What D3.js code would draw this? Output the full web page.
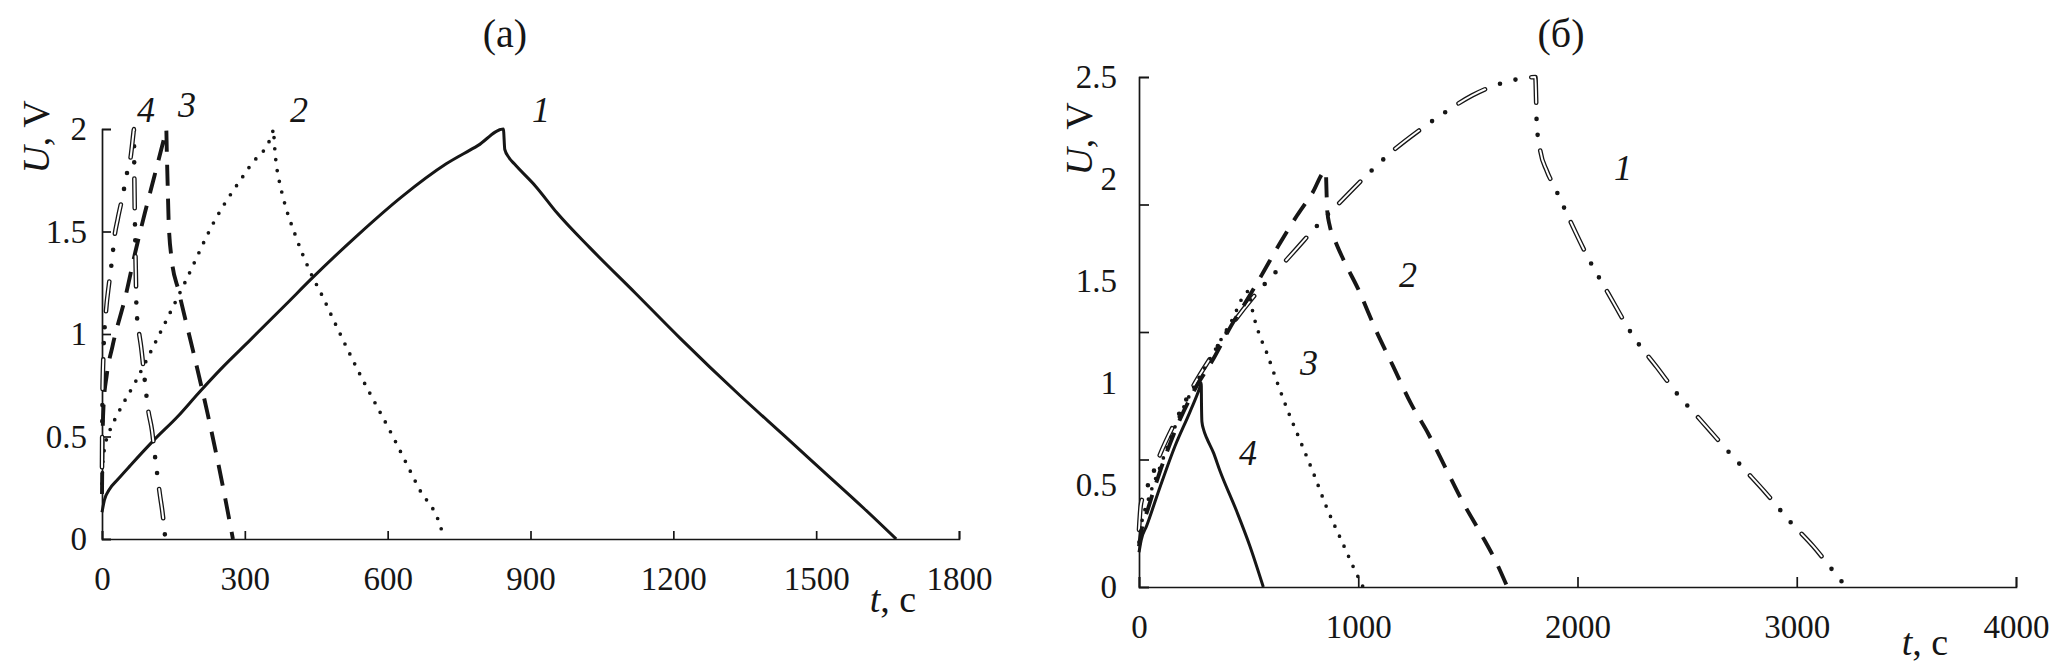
<!DOCTYPE html>
<html>
<head>
<meta charset="utf-8">
<script src="https://cdn.jsdelivr.net/npm/d3@7"></script>
<style>
  html, body { margin: 0; padding: 0; background: #ffffff; }
  svg { display: block; }
</style>
</head>
<body>
<svg id="chart" width="2067" height="670"></svg>
<script>
// ---------------- DATA ----------------
// Panel (а): tick values
const aTicksX = [0, 300, 600, 900, 1200, 1500, 1800];
const aTicksY = [0, 0.5, 1, 1.5, 2];
// Panel (б): tick values (tick marks and labels are not aligned in the original)
const bTicksX = [0, 1000, 2000, 3000, 4000];
const bTickMarksY = [0, 0.625, 1.25, 1.875, 2.5];
const bLabelsY = [0, 0.5, 1, 1.5, 2, 2.5];

// Panel (а) curves: [t, s ; U, V]
const a1 = [[0,0.13],[5,0.19],[15,0.24],[33,0.29],[60,0.36],[108,0.48],[160,0.60],[202,0.71],[250,0.83],[311,0.97],[393,1.16],[438,1.265],[536,1.48],[630,1.67],[723,1.83],[790,1.92],[843,2.0],[846,1.90],[855,1.86],[866,1.83],[911,1.72],[956,1.59],[1025,1.42],[1120,1.20],[1214,0.98],[1340,0.70],[1430,0.51],[1515,0.33],[1600,0.15],[1668,0]];
const a2 = [[0,0.27],[2,0.38],[6,0.45],[15,0.52],[33,0.61],[71,0.77],[108,0.94],[176,1.26],[236,1.55],[311,1.82],[358,1.98],[360,2.0],[362,1.93],[365,1.85],[372,1.75],[380,1.67],[408,1.47],[438,1.30],[464,1.18],[484,1.08],[536,0.83],[611,0.50],[665,0.25],[716,0.02],[718,0]];
const a3 = [[0,0.22],[1,0.45],[3,0.64],[10,0.80],[22,0.94],[50,1.19],[70,1.40],[90,1.59],[110,1.77],[134,1.99],[135,2.0],[136,1.9],[138,1.72],[140,1.55],[146,1.37],[161,1.21],[191,0.92],[221,0.62],[251,0.29],[275,0]];
const a4 = [[0,0.35],[1,0.7],[3,0.9],[8,1.1],[15,1.25],[22,1.38],[26,1.47],[33,1.56],[44,1.68],[52,1.78],[60,1.86],[66,1.98],[67,2.0],[68,1.75],[69.5,1.5],[71,1.3],[72.5,1.12],[77,1.02],[82,0.94],[90,0.77],[97,0.63],[105,0.53],[112,0.39],[122,0.21],[127,0.13],[133,0]];

// Panel (б) curves
const b1 = [[0,0.28],[8,0.40],[25,0.46],[50,0.52],[100,0.66],[170,0.82],[250,0.99],[330,1.13],[420,1.28],[520,1.42],[620,1.54],[720,1.66],[820,1.78],[930,1.90],[1040,2.02],[1160,2.14],[1280,2.24],[1400,2.33],[1520,2.41],[1640,2.465],[1760,2.495],[1808,2.50],[1811,2.40],[1814,2.27],[1830,2.14],[1860,2.04],[1900,1.95],[1960,1.81],[2050,1.61],[2140,1.44],[2260,1.22],[2360,1.08],[2460,0.94],[2560,0.82],[2650,0.71],[2750,0.59],[2860,0.46],[2970,0.32],[3075,0.20],[3180,0.06],[3225,0]];
const b2 = [[0,0.2],[10,0.27],[40,0.38],[100,0.58],[170,0.78],[250,0.96],[340,1.12],[420,1.28],[500,1.42],[560,1.53],[640,1.68],[720,1.82],[790,1.93],[852,2.04],[855,1.95],[858,1.85],[870,1.77],[890,1.71],[930,1.61],[1000,1.46],[1080,1.26],[1160,1.08],[1240,0.90],[1320,0.75],[1400,0.58],[1480,0.41],[1560,0.26],[1630,0.12],[1680,0]];
const b3 = [[0,0.22],[10,0.30],[40,0.42],[100,0.60],[170,0.80],[250,0.98],[330,1.13],[420,1.30],[500,1.45],[505,1.45],[510,1.40],[521,1.34],[545,1.25],[582,1.15],[628,1.01],[673,0.88],[734,0.72],[795,0.56],[856,0.39],[931,0.21],[977,0.10],[1022,0]];
const b4 = [[0,0.17],[10,0.23],[35,0.30],[96,0.49],[164,0.69],[233,0.86],[278,0.98],[284,1.0],[285,0.9],[287,0.81],[295,0.77],[309,0.73],[339,0.66],[369,0.57],[446,0.37],[506,0.20],[567,0]];

// Curve labels
const aCurveLabels = ["1", "2", "3", "4"];
const bCurveLabels = ["1", "2", "3", "4"];

// ---------------- DRAWING ----------------
const FONT = "'Liberation Serif', 'Times New Roman', Times, serif";
const INK = "#161616";
const svg = d3.select("#chart");

const xA = d3.scaleLinear().domain([0, 1800]).range([102, 959]);
const yA = d3.scaleLinear().domain([0, 2]).range([539, 129]);
const xB = d3.scaleLinear().domain([0, 4000]).range([1139, 2016]);
const yB = d3.scaleLinear().domain([0, 2.5]).range([587, 77]);

function styleAxis(g, fs) {
  g.attr("font-family", FONT).attr("font-size", fs);
  g.selectAll("path, line").attr("stroke", INK).attr("stroke-width", 1.7);
  g.selectAll("text").attr("fill", INK);
}
const fmt = d => String(d);

// Panel (а) axes
svg.append("g").attr("transform", `translate(0,${yA(0)})`)
  .call(d3.axisBottom(xA).tickValues(aTicksX).tickSize(-8).tickSizeOuter(-8).tickPadding(28).tickFormat(fmt))
  .call(g => styleAxis(g, 33));
svg.append("g").attr("transform", `translate(${xA(0)},0)`)
  .call(d3.axisLeft(yA).tickValues(aTicksY).tickSize(-9).tickSizeOuter(-9).tickPadding(15).tickFormat(fmt))
  .call(g => styleAxis(g, 33));

// Panel (б) axes
svg.append("g").attr("transform", `translate(0,${yB(0)})`)
  .call(d3.axisBottom(xB).tickValues(bTicksX).tickSize(-10).tickSizeOuter(-10).tickPadding(28).tickFormat(fmt))
  .call(g => styleAxis(g, 33));
svg.append("g").attr("transform", `translate(${xB(0)},0)`)
  .call(d3.axisLeft(yB).tickValues(bTickMarksY).tickSize(-10).tickSizeOuter(-10).tickFormat(""))
  .call(g => styleAxis(g, 33));
svg.append("g").attr("transform", `translate(${xB(0)},0)`)
  .call(d3.axisLeft(yB).tickValues(bLabelsY).tickSize(0).tickPadding(22).tickFormat(fmt))
  .call(g => { g.select(".domain").remove(); styleAxis(g, 33); });

// Curves
function mkLine(x, y) {
  return d3.line().x(d => x(d[0])).y(d => y(d[1])).curve(d3.curveMonotoneX);
}
const lineA = mkLine(xA, yA), lineB = mkLine(xB, yB);

function solid(data, ln, w) {
  svg.append("path").datum(data).attr("d", ln).attr("fill", "none")
    .attr("stroke", INK).attr("stroke-width", w).attr("stroke-linejoin", "round");
}
function dotted(data, ln) {
  svg.append("path").datum(data).attr("d", ln).attr("fill", "none")
    .attr("stroke", INK).attr("stroke-width", 3.7).attr("stroke-linecap", "round")
    .attr("stroke-dasharray", "0 11");
}
function dashed(data, ln, pattern) {
  svg.append("path").datum(data).attr("d", ln).attr("fill", "none")
    .attr("stroke", INK).attr("stroke-width", 3.9).attr("stroke-dasharray", pattern);
}
function hollowDashDotDot(data, ln) {
  svg.append("path").datum(data).attr("d", ln).attr("fill", "none")
    .attr("stroke", INK).attr("stroke-width", 4.6).attr("stroke-linecap", "round")
    .attr("stroke-dasharray", "30 16 0 16 0 16");
  svg.append("path").datum(data).attr("d", ln).attr("fill", "none")
    .attr("stroke", "#ffffff").attr("stroke-width", 2.0).attr("stroke-linecap", "round")
    .attr("stroke-dasharray", "30 48");
}

// Panel (а)
solid(a1, lineA, 3.0);
dotted(a2, lineA);
dashed(a3, lineA, "21 13");
hollowDashDotDot(a4, lineA);

// Panel (б)
hollowDashDotDot(b1, lineB);
dashed(b2, lineB, "20 13");
dotted(b3, lineB);
solid(b4, lineB, 3.0);

// Text helpers
function txt(x, y, size, anchor) {
  return svg.append("text").attr("x", x).attr("y", y).attr("font-family", FONT)
    .attr("font-size", size).attr("text-anchor", anchor || "middle").attr("fill", INK);
}

// Panel titles
txt(505, 47, 40).text("(а)");
txt(1561, 47, 40).text("(б)");

// Curve labels (italic)
const aLabelPos = [[541, 122], [299, 122], [187, 117], [146, 122]];
aCurveLabels.forEach((s, i) => txt(aLabelPos[i][0], aLabelPos[i][1], 36).attr("font-style", "italic").text(s));
const bLabelPos = [[1623, 180], [1408, 287], [1309, 375], [1248, 465]];
bCurveLabels.forEach((s, i) => txt(bLabelPos[i][0], bLabelPos[i][1], 36).attr("font-style", "italic").text(s));

// Axis titles
function yTitle(x, y) {
  const t = svg.append("text").attr("transform", `translate(${x},${y}) rotate(-90)`)
    .attr("font-family", FONT).attr("font-size", 38).attr("text-anchor", "middle").attr("fill", INK);
  t.append("tspan").attr("font-style", "italic").text("U");
  t.append("tspan").text(", V");
}
function xTitle(x, y) {
  const t = txt(x, y, 38);
  t.append("tspan").attr("font-style", "italic").text("t");
  t.append("tspan").text(", с");
}
yTitle(49, 137);
yTitle(1092, 139);
xTitle(893, 612);
xTitle(1925, 655);
</script>
</body>
</html>
